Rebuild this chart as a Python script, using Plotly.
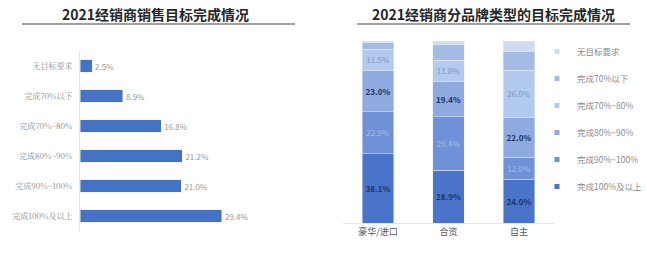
import plotly.graph_objects as go

# Left chart data
left_cats = ["无目标要求", "完成70%以下", "完成70%~80%", "完成80%~90%", "完成90%~100%", "完成100%及以上"]
left_vals = [2.5, 8.9, 16.8, 21.2, 21.0, 29.4]

# Right chart data
brand_types = ["豪华/进口", "合资", "自主"]
seg_names = ["完成100%及以上", "完成90%~100%", "完成80%~90%", "完成70%~80%", "完成70%以下", "无目标要求"]
seg_100 = [38.1, 28.9, 24.0]
seg_90_100 = [22.9, 29.4, 12.0]
seg_80_90 = [23.0, 19.4, 22.0]
seg_70_80 = [11.5, 11.8, 26.0]
seg_below70 = [3.5, 8.5, 10.0]
seg_none = [1.0, 2.0, 6.0]

W, H = 647, 257
def px(x): return x / W
def py(y): return 1 - y / H

fig = go.Figure()

FONT = "Noto Sans CJK SC"

fig.add_trace(go.Bar(
    x=left_vals, y=left_cats, orientation="h",
    marker_color="#4472c4", width=0.42,
    text=[f"{v:.1f}%" for v in left_vals], textposition="outside",
    textfont=dict(size=8, color="#999999", family=FONT),
    cliponaxis=False, showlegend=False,
    xaxis="x", yaxis="y",
))

seg_vals = [seg_100, seg_90_100, seg_80_90, seg_70_80, seg_below70, seg_none]
seg_colors = ["#4a74c9", "#6e91d7", "#8eaadf", "#b3caef", "#a3bbe5", "#cfdbef"]
seg_label = ["bold", "light", "bold", "light2", None, None]
for name, vals, col, lab in zip(seg_names, seg_vals, seg_colors, seg_label):
    if lab == "bold":
        kw = dict(texttemplate="<b>%{y:.1f}%</b>", textfont=dict(size=8, color="#1f3560", family=FONT))
    elif lab == "light":
        kw = dict(texttemplate="%{y:.1f}%", textfont=dict(size=8, color="#a9bde2", family=FONT))
    elif lab == "light2":
        kw = dict(texttemplate="%{y:.1f}%", textfont=dict(size=8, color="#7f98c6", family=FONT))
    else:
        kw = dict(texttemplate="")
    fig.add_trace(go.Bar(
        x=brand_types, y=vals, name=name, marker_color=col, width=0.45,
        textposition="inside", insidetextanchor="middle", textangle=0,
        constraintext="none", showlegend=False,
        xaxis="x2", yaxis="y2", **kw,
    ))

# legend entries (small square markers), top to bottom
for name, col in reversed(list(zip(seg_names, seg_colors))):
    fig.add_trace(go.Scatter(
        x=[None], y=[None], mode="markers", name=name, legendgroup=name,
        marker=dict(symbol="square", size=5, color=col),
        xaxis="x2", yaxis="y2",
    ))

fig.update_layout(
    width=W, height=H, margin=dict(l=0, r=0, t=0, b=0),
    paper_bgcolor="white", plot_bgcolor="white",
    barmode="stack",
    font=dict(family=FONT, color="#7f7f7f", size=8),
    xaxis=dict(domain=[px(80), px(249)], range=[0, 35], visible=False),
    yaxis=dict(domain=[py(231), py(51)], range=[5.5, -0.5], type="category",
               showline=True, linecolor="#e6e6e6", linewidth=1, ticks="",
               ticklabelstandoff=5, tickfont=dict(size=8, color="#8c8c8c", family="Noto Serif CJK SC, Noto Sans CJK SC"),
               showgrid=False, anchor="x"),
    xaxis2=dict(domain=[px(342.75), px(554.25)], range=[-0.5, 2.5], type="category",
                showline=True, linecolor="#e6e6e6", ticks="", anchor="y2",
                tickfont=dict(size=9, color="#595959", family=FONT), showgrid=False),
    yaxis2=dict(domain=[py(223), py(41)], range=[0, 100], visible=False, anchor="x2"),
    legend=dict(x=px(537), y=py(37), xanchor="left", yanchor="top",
                traceorder="grouped", tracegroupgap=8,
                font=dict(size=8.5, color="#8c8c8c", family=FONT),
                itemwidth=30, bgcolor="rgba(0,0,0,0)"),
    annotations=[
        dict(text="<b>2021经销商销售目标完成情况</b>", x=px(155), y=py(14), xref="paper", yref="paper",
             showarrow=False, font=dict(size=14, color="#262626", family=FONT), xanchor="center", yanchor="middle"),
        dict(text="<b>2021经销商分品牌类型的目标完成情况</b>", x=px(493), y=py(14), xref="paper", yref="paper",
             showarrow=False, font=dict(size=14, color="#262626", family=FONT), xanchor="center", yanchor="middle"),
    ],
    shapes=[
        dict(type="line", xref="paper", yref="paper", x0=px(22), x1=px(295), y0=py(24), y1=py(24),
             line=dict(color="#404040", width=1)),
        dict(type="line", xref="paper", yref="paper", x0=px(357), x1=px(630), y0=py(24), y1=py(24),
             line=dict(color="#404040", width=1)),
    ],
)

fig.write_html("out.html")
